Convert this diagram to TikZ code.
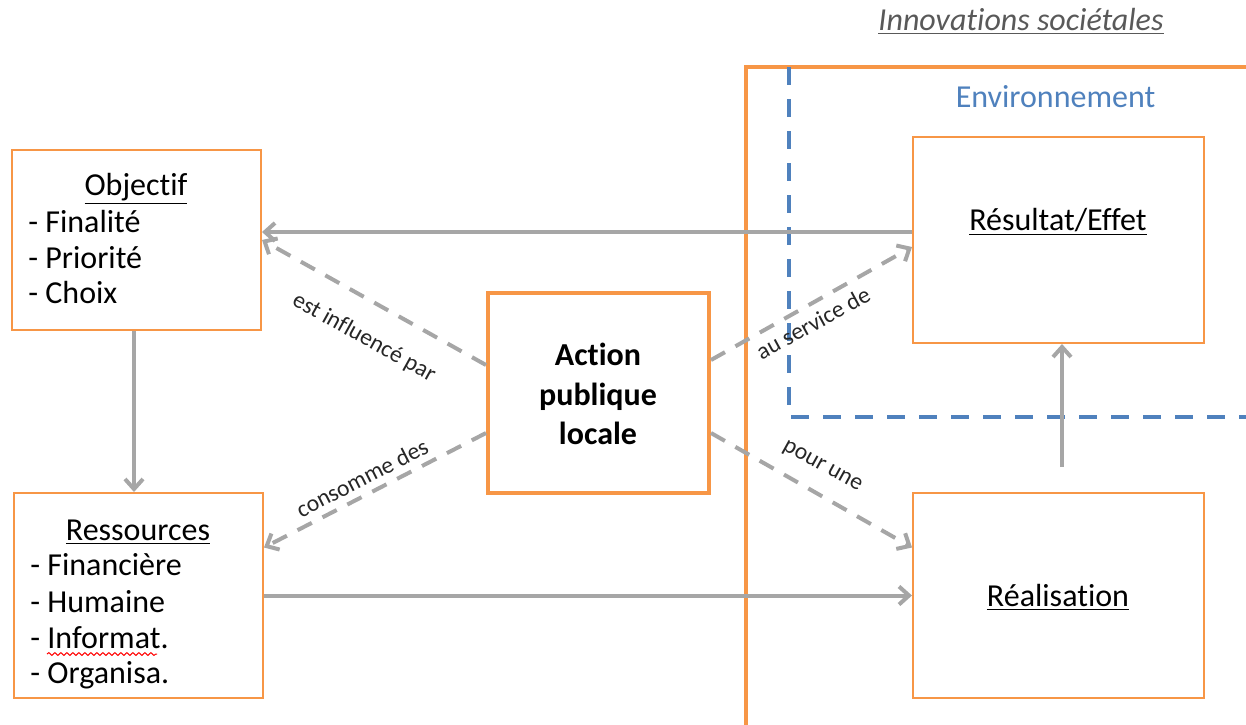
\documentclass[tikz,border=0pt]{standalone}
\usepackage{fontspec}
\setmainfont[Ligatures=NoCommon]{Carlito}
\usetikzlibrary{arrows.meta,calc,decorations.pathmorphing}
\definecolor{orng}{HTML}{F79646}
\definecolor{blu}{HTML}{4F81BD}
\definecolor{gry}{HTML}{A6A6A6}
\definecolor{ttl}{HTML}{595959}
\begin{document}
\begin{tikzpicture}[x=0.5pt,y=-0.5pt,
  box/.style={draw=orng, line width=1pt, fill=white, inner sep=0pt},
  actbox/.style={draw=orng, line width=2pt, fill=white, inner sep=0pt},
  big/.style={font=\fontsize{16}{19}\selectfont, inner sep=0pt},
  lbl/.style={font=\fontsize{11.8}{14}\selectfont, inner sep=0pt, text=black!85},
  conn/.style={draw=gry, line width=2pt, -{Straight Barb[length=5pt,width=9pt]}},
  dconn/.style={conn, dash pattern=on 8pt off 6pt},
]
\useasboundingbox (0,0) rectangle (1246,724);
\clip (0,0) rectangle (1246,724);

% frames
\draw[orng, line width=2pt] (1260,67) -- (746,67) -- (746,740);
\draw[blu, line width=2pt, dash pattern=on 9pt off 7pt] (789,67) -- (789,417) -- (1260,417);

% title texts
\node[big, font=\fontsize{16}{19}\selectfont\itshape, text=ttl, anchor=base] (title) at (1021,30) {\underline{Innovations sociétales}};
\node[big, text=blu, anchor=base] (env) at (1055.5,107) {Environnement};

% boxes
\node[box, minimum width=124.5pt, minimum height=90pt] (obj) at (136.5,240) {};
\node[box, minimum width=124.5pt, minimum height=102.5pt] (ress) at (138.5,595.5) {};
\node[actbox, minimum width=110.5pt, minimum height=100pt] (act) at (598.5,393) {};
\node[box, minimum width=145.5pt, minimum height=103pt] (res) at (1058.5,240) {};
\node[box, minimum width=145.5pt, minimum height=102.5pt] (real) at (1058.5,595.5) {};

% box texts
\node[big, anchor=base] (objt) at (136,195) {\underline{Objectif}};
\node[big, anchor=base west] (o1) at (28,232) {- Finalité};
\node[big, anchor=base west] (o2) at (28,268) {- Priorité};
\node[big, anchor=base west] (o3) at (28,303) {- Choix};

\node[big, anchor=base] (rt) at (138,540) {\underline{Ressources}};
\node[big, anchor=base west] (r1) at (30,575) {- Financière};
\node[big, anchor=base west] (r2) at (30,612) {- Humaine};
\node[big, anchor=base west] (r3) at (30,648) {- Informat.};
\node[big, anchor=base west] (r4) at (30,683) {- Organisa.};
\draw[red, line width=0.5pt, decorate, decoration={snake, amplitude=0.7pt, segment length=3pt}] (47,654) -- (157,654);

\node[big, font=\bfseries\fontsize{16}{19.75}\selectfont, align=center] (actt) at (598,394) {Action\\publique\\locale};
\node[big, anchor=base] (rest) at (1058,230) {\underline{Résultat/Effet}};
\node[big, anchor=base] (realt) at (1058,606) {\underline{Réalisation}};

% connectors
\draw[conn] ([yshift=4pt]res.west) -- ([yshift=4pt]obj.east);
\draw[dconn] ([yshift=14pt]act.west) -- (obj.east);
\draw[dconn] ([yshift=-20pt]act.west) -- ([yshift=24pt]ress.east);
\draw[dconn] ([yshift=16.5pt]act.east) -- ([yshift=-3.5pt]res.west);
\draw[dconn] ([yshift=-20pt]act.east) -- ([yshift=24pt]real.west);
\draw[conn] ([xshift=-1.25pt]obj.south) -- ([xshift=-1.25pt]obj.south |- ress.north);
\draw[conn] (ress.east) -- (ress.east -| real.west);
\draw[conn, shorten <=12.5pt] ([xshift=1.75pt]real.north) -- ([xshift=1.75pt]res.south);

% connector labels
\node[lbl, rotate=-29] (l1) at (364,338) {est influencé par};
\node[lbl, rotate=27] (l2) at (362,478) {consomme des};
\node[lbl, rotate=28.6] (l3) at (813,323) {au service de};
\node[lbl, rotate=-29] (l4) at (822,467) {pour une};
\end{tikzpicture}
\end{document}
